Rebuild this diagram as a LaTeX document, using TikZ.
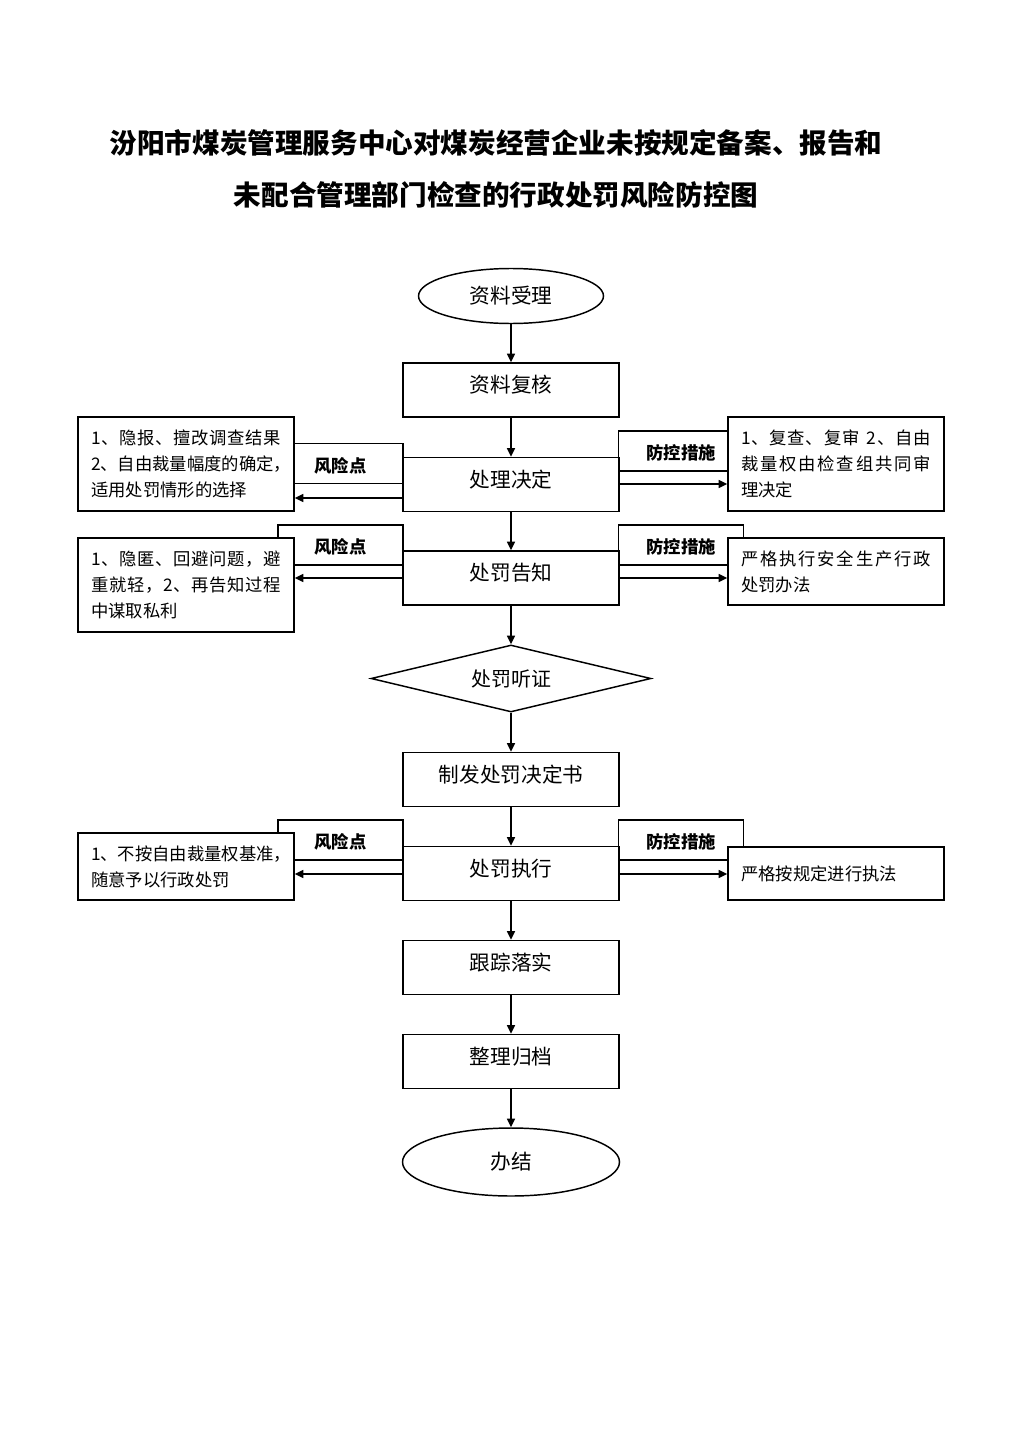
\documentclass[tikz,border=0pt]{standalone}
\usepackage{fontspec}
\setmainfont{Noto Sans CJK SC}
\usetikzlibrary{shapes.geometric,arrows.meta}
\newcommand\sprline[2]{\makebox[#1][s]{\sprA#2\relax}}
\def\sprA#1{#1\sprB}
\def\sprB#1{\ifx#1\relax\else\hfil#1\expandafter\sprB\fi}
\begin{document}
\begin{tikzpicture}[x=0.75pt,y=-0.75pt,line width=1.1pt,
  arr/.style={-{Triangle[length=6.5pt,width=6pt]}},
  cbox/.style={draw,fill=white,minimum width=162pt,minimum height=40.5pt,inner sep=0pt,
    font=\fontsize{15.5pt}{18pt}\selectfont,text height=4.3pt,text depth=0pt},
  sbox/.style={draw,fill=white,minimum width=162pt,inner xsep=9.75pt,inner ysep=0pt,
    text width=142.5pt,align=left,font=\fontsize{13pt}{19.5pt}\selectfont},
  lbl/.style={draw,minimum width=93.75pt,minimum height=30pt,inner sep=0pt,
    font=\fontsize{13pt}{15pt}\selectfont\bfseries,text height=13pt,text depth=0pt},
  term/.style={draw,ellipse,fill=white,inner sep=0pt,font=\fontsize{15.5pt}{18pt}\selectfont},
  dec/.style={draw,diamond,aspect=4.2,fill=white,inner sep=0pt,minimum width=210pt,
    minimum height=50.25pt,font=\fontsize{15pt}{18pt}\selectfont},
  ttl/.style={font=\fontsize{20.7pt}{24pt}\selectfont\bfseries,inner sep=0pt}]
\useasboundingbox[fill=white] (0,0) rectangle (1024,1448);

% title
\node[ttl] (t1) at (496,143) {汾阳市煤炭管理服务中心对煤炭经营企业未按规定备案、报告和};
\node[ttl] (t2) at (496,195) {未配合管理部门检查的行政处罚风险防控图};

% label tabs (drawn first, partly covered)
\node[lbl] (k1l) at (340.5,463.5) {风险点};
\node[lbl] (k1r) at (681,451) {防控措施};
\node[lbl] (k2l) at (340.5,545) {风险点};
\node[lbl] (k2r) at (681,545) {防控措施};
\node[lbl] (k3l) at (340.5,840) {风险点};
\node[lbl] (k3r) at (681,840) {防控措施};

% main flow
\node[term,minimum width=138.75pt,minimum height=41.25pt] (st) at (511,296) {资料受理};
\node[cbox] (b2) at (511,390) {资料复核};
\node[cbox] (b3) at (511,484.5) {处理决定};
\node[cbox] (b4) at (511,578) {处罚告知};
\node[dec] (dd) at (511,678.5) {处罚听证};
\node[cbox] (b5) at (511,779.5) {制发处罚决定书};
\node[cbox] (b6) at (511,873.5) {处罚执行};
\node[cbox] (b7) at (511,967.5) {跟踪落实};
\node[cbox] (b8) at (511,1061.5) {整理归档};
\node[term,minimum width=162.75pt,minimum height=51pt] (en) at (511,1162) {办结};

% side boxes
\node[sbox,minimum height=70.5pt] (s1l) at (186,464)
  {\sprline{142.5pt}{1、隐报、擅改调查结果}\\\sprline{142.5pt}{2、自由裁量幅度的确定，}\\适用处罚情形的选择};
\node[sbox,minimum height=70.5pt] (s1r) at (836,464)
  {\sprline{142.5pt}{1、复查、复审\ 2、自由}\\\sprline{142.5pt}{裁量权由检查组共同审}\\理决定};
\node[sbox,minimum height=70.5pt] (s2l) at (186,585)
  {\sprline{142.5pt}{1、隐匿、回避问题，避}\\\sprline{142.5pt}{重就轻，2、再告知过程}\\中谋取私利};
\node[sbox,minimum height=50.25pt] (s2r) at (836,571.5)
  {\sprline{142.5pt}{严格执行安全生产行政}\\处罚办法};
\node[sbox,minimum height=50.25pt] (s3l) at (186,866.5)
  {\sprline{142.5pt}{1、不按自由裁量权基准，}\\随意予以行政处罚};
\node[sbox,minimum height=39.75pt] (s3r) at (836,873.5)
  {严格按规定进行执法};

% vertical arrows
\draw[arr] (st.south) -- (b2.north);
\draw[arr] (b2.south) -- (b3.north);
\draw[arr] (b3.south) -- (b4.north);
\draw[arr] (b4.south) -- (dd.north);
\draw[arr] (dd.south) -- (b5.north);
\draw[arr] (b5.south) -- (b6.north);
\draw[arr] (b6.south) -- (b7.north);
\draw[arr] (b7.south) -- (b8.north);
\draw[arr] (b8.south) -- (en.north);

% horizontal arrows
\coordinate (h1l) at (0,498);
\coordinate (h1r) at (0,484);
\coordinate (h2) at (0,578);
\coordinate (h3) at (0,874);
\draw[arr] (b3.west |- h1l) -- (s1l.east |- h1l);
\draw[arr] (b3.east |- h1r) -- (s1r.west |- h1r);
\draw[arr] (b4.west |- h2) -- (s2l.east |- h2);
\draw[arr] (b4.east |- h2) -- (s2r.west |- h2);
\draw[arr] (b6.west |- h3) -- (s3l.east |- h3);
\draw[arr] (b6.east |- h3) -- (s3r.west |- h3);
\end{tikzpicture}
\end{document}
